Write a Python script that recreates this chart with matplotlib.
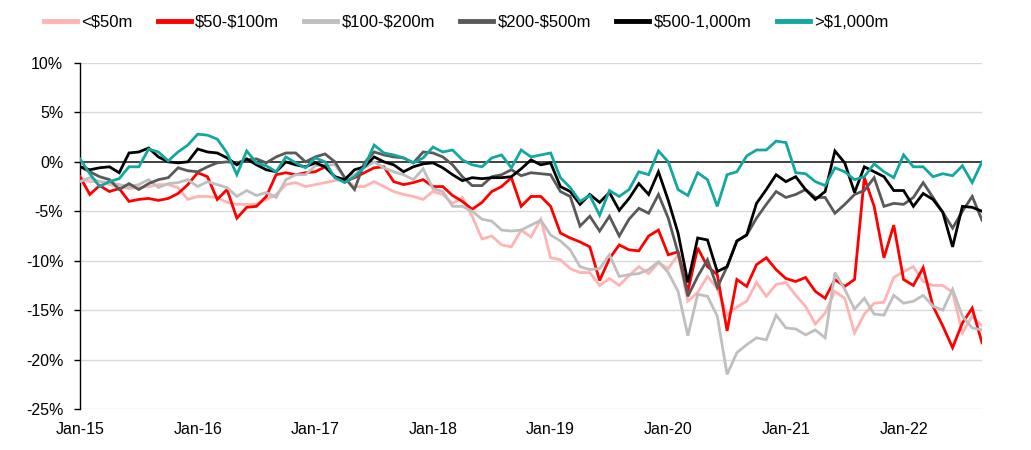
import matplotlib
matplotlib.use("Agg")
import matplotlib.pyplot as plt
from matplotlib.ticker import FuncFormatter
import numpy as np

plt.rcParams['font.family'] = ['Liberation Sans', 'DejaVu Sans']

# Monthly observations, Jan-2015 .. Sep-2022 (93 months)
months = np.arange(93)
tick_pos = [0, 12, 24, 36, 48, 60, 72, 84]
tick_labels = ["Jan-15", "Jan-16", "Jan-17", "Jan-18", "Jan-19", "Jan-20", "Jan-21", "Jan-22"]

lt50 = [-1.6, -2.0, -2.0, -2.3, -2.5, -2.7, -2.6, -2.5, -2.3, -2.3, -2.6, -3.8, -3.5, -3.5, -3.6, -4.1,
        -4.3, -4.3, -4.3, -3.8, -3.3, -2.3, -2.1, -2.5, -2.3, -2.1, -1.9, -1.7, -2.5, -2.5, -2.0, -2.5,
        -3.0, -3.3, -3.5, -3.8, -3.0, -3.3, -4.2, -3.6, -5.5, -7.8, -7.5, -8.4, -8.6, -6.9, -7.6, -5.8,
        -9.7, -9.9, -10.8, -11.2, -11.2, -12.5, -11.8, -12.5, -11.5, -10.6, -11.3, -10.2, -10.8, -9.4,
        -14.1, -13.2, -11.6, -12.8, -15.5, -14.7, -14.1, -12.2, -13.6, -12.4, -12.2, -13.5, -14.6, -16.4,
        -15.3, -13.1, -13.8, -17.3, -15.4, -14.3, -14.2, -11.7, -11.1, -10.6, -12.1, -12.5, -12.5, -13.2,
        -17.3, -15.6, -16.6]

m50_100 = [-1.5, -3.3, -2.4, -3.0, -2.7, -4.0, -3.8, -3.7, -3.9, -3.7, -3.2, -2.3, -1.1, -1.5, -3.8, -2.8,
           -5.7, -4.6, -4.5, -3.5, -1.3, -1.1, -1.3, -1.1, -1.0, -0.5, -1.5, -2.0, -1.6, -1.1, -0.6, -0.5,
           -2.0, -2.3, -2.1, -1.8, -2.5, -2.5, -3.4, -4.0, -4.8, -4.1, -3.0, -2.5, -1.6, -4.5, -3.5, -3.5,
           -4.5, -7.2, -7.7, -8.1, -8.6, -12.0, -9.8, -8.4, -8.9, -9.0, -7.5, -6.9, -9.4, -9.1, -13.1, -8.7,
           -10.6, -11.4, -17.1, -11.9, -12.6, -10.4, -9.7, -10.9, -11.8, -12.1, -11.7, -13.1, -13.8, -11.9,
           -12.6, -11.9, -1.6, -4.5, -9.7, -6.4, -11.9, -12.5, -10.7, -14.6, -16.6, -18.8, -16.3, -14.8,
           -18.3]

m100_200 = [-2.0, -1.6, -2.0, -2.1, -2.3, -2.5, -2.3, -1.8, -2.6, -2.2, -2.1, -1.8, -2.5, -2.0, -2.3, -2.6,
            -3.5, -2.9, -3.4, -3.1, -3.6, -1.8, -1.3, -1.3, -0.4, -0.3, -0.3, -1.6, -1.3, -0.6, 0.0, -0.6,
            -1.0, -1.3, -1.8, -0.7, -2.7, -3.0, -4.5, -4.5, -5.0, -5.8, -6.0, -6.9, -7.0, -6.9, -6.4, -5.9,
            -7.4, -8.0, -8.9, -10.6, -10.9, -10.8, -9.4, -11.6, -11.4, -11.3, -10.9, -10.1, -11.2, -13.1,
            -17.6, -13.4, -13.6, -15.6, -21.5, -19.3, -18.5, -17.8, -18.0, -15.5, -16.8, -16.9, -17.5, -17.0,
            -17.8, -11.2, -12.9, -14.9, -13.8, -15.4, -15.5, -13.5, -14.3, -14.1, -13.5, -14.6, -15.0, -12.9,
            -15.6, -16.8, -17.0]

m200_500 = [-0.5, -1.0, -1.5, -1.8, -2.8, -2.2, -2.8, -2.2, -1.8, -1.6, -0.6, -0.9, -1.0, -0.5, -0.1, 0.0,
            -0.1, 0.2, 0.3, -0.1, 0.5, 0.9, 0.9, 0.0, 0.5, 0.8, 0.0, -1.6, -2.8, -0.1, 1.0, 0.7,
            0.5, 0.4, -0.1, 1.0, 0.9, 0.5, -0.3, -1.5, -2.4, -2.4, -1.5, -1.3, -0.8, -1.4, -1.1, -1.2,
            -1.3, -3.0, -3.5, -6.5, -5.5, -7.0, -5.5, -7.5, -5.8, -4.7, -5.2, -3.3, -5.7, -9.2, -13.6, -11.6,
            -9.9, -12.7, -10.6, -8.0, -7.4, -5.7, -4.3, -3.0, -3.6, -3.3, -2.8, -3.6, -3.6, -5.2, -4.3, -3.3,
            -2.9, -1.6, -4.5, -4.2, -4.3, -3.6, -2.1, -3.6, -5.1, -6.7, -5.0, -3.5, -5.9]

m500_1000 = [-0.5, -0.8, -0.6, -0.5, -1.1, 0.9, 1.0, 1.4, 0.5, 0.0, -0.1, 0.0, 1.3, 1.0, 0.9, 0.4,
             -0.3, 0.3, -0.3, -0.8, -1.0, 0.0, -0.3, -0.5, -0.1, -0.5, -1.5, -1.8, -0.8, -0.5, 0.5, 0.0,
             -0.3, -1.0, -0.5, -0.2, -0.1, -0.6, -1.3, -1.9, -1.6, -1.7, -1.6, -1.6, -1.5, -0.7, 0.2, -0.3,
             -0.1, -2.5, -3.0, -4.3, -3.3, -4.1, -3.1, -4.9, -3.7, -2.2, -3.3, -1.0, -3.9, -7.2, -12.2, -7.7,
             -7.9, -11.1, -10.6, -8.0, -7.4, -4.2, -2.8, -1.3, -2.0, -1.5, -2.8, -3.8, -3.0, 1.1, -0.1, -3.1,
             -0.5, -1.0, -1.5, -2.9, -2.9, -4.5, -3.2, -3.8, -5.1, -8.6, -4.5, -4.6, -5.0]

gt1000 = [0.3, -1.2, -2.5, -2.0, -1.7, -0.5, -0.5, 1.3, 1.0, 0.1, 1.0, 1.7, 2.8, 2.7, 2.3, 0.9,
          -1.3, 1.1, -0.1, -0.4, -1.0, 0.5, -0.1, -0.6, 0.4, 0.0, -1.6, -2.1, -1.5, -0.5, 1.7, 0.9,
          0.7, 0.4, -0.1, 0.4, 1.5, 1.0, 1.2, 0.2, -0.3, -0.5, 0.4, 0.7, -0.6, 1.2, 0.5, 0.7,
          0.9, -1.6, -2.6, -4.0, -3.4, -5.4, -2.9, -3.5, -2.8, -1.0, -1.3, 1.1, 0.0, -2.8, -3.4, -1.1,
          -1.8, -4.5, -1.3, -1.0, 0.6, 1.2, 1.2, 2.1, 1.95, -1.1, -1.2, -2.0, -2.4, -0.6, -1.0, -1.8,
          -1.5, -0.2, -1.0, -1.6, 0.7, -0.5, -0.5, -1.5, -1.2, -1.4, -0.4, -2.1, 0.0]

series_names = ["<$50m", "$50-$100m", "$100-$200m", "$200-$500m", "$500-1,000m", ">$1,000m"]
series_values = [lt50, m50_100, m100_200, m200_500, m500_1000, gt1000]
series_colors = ["#FFB3B3", "#FF0000", "#BFBFBF", "#595959", "#000000", "#12A89F"]

fig = plt.figure(figsize=(10.31, 4.5), dpi=100)
ax = fig.add_axes([80 / 1031, 1 - 409 / 450, (982 - 80) / 1031, (409 - 63) / 450])

for yv in [10, 5, -5, -10, -15, -20, -25]:
    ax.axhline(yv, color="#D9D9D9", lw=1.0, zorder=1)
ax.axhline(0, color="#404040", lw=1.4, zorder=2)

for name, vals, col in zip(series_names, series_values, series_colors):
    ax.plot(months, vals, color=col, lw=2.0, label=name.replace("$", r"\$"), zorder=3,
            solid_joinstyle="miter")

ax.set_xlim(0, 92)
ax.set_ylim(-25, 10)
ax.set_yticks([10, 5, 0, -5, -10, -15, -20, -25])
ax.yaxis.set_major_formatter(FuncFormatter(lambda v, p: f"{int(round(v))}%"))
ax.set_xticks(tick_pos)
ax.set_xticklabels(tick_labels)

for s in ["top", "right", "bottom"]:
    ax.spines[s].set_visible(False)
ax.spines["left"].set_color("black")
ax.spines["left"].set_linewidth(1.0)

ax.tick_params(axis="y", length=4, width=1, color="black", pad=8, labelsize=11.5, labelcolor="black")
ax.tick_params(axis="x", length=0, pad=9, labelsize=11.5, labelcolor="black")

handles, labels = ax.get_legend_handles_labels()
leg = fig.legend(handles, labels, loc="upper center", bbox_to_anchor=(466 / 1031, 1.0), ncol=6,
                 frameon=False, fontsize=12, handlelength=2.0, handletextpad=0.25, columnspacing=1.5)
for h in leg.get_lines():
    h.set_linewidth(3.5)

fig.savefig("out.png", dpi=100)
